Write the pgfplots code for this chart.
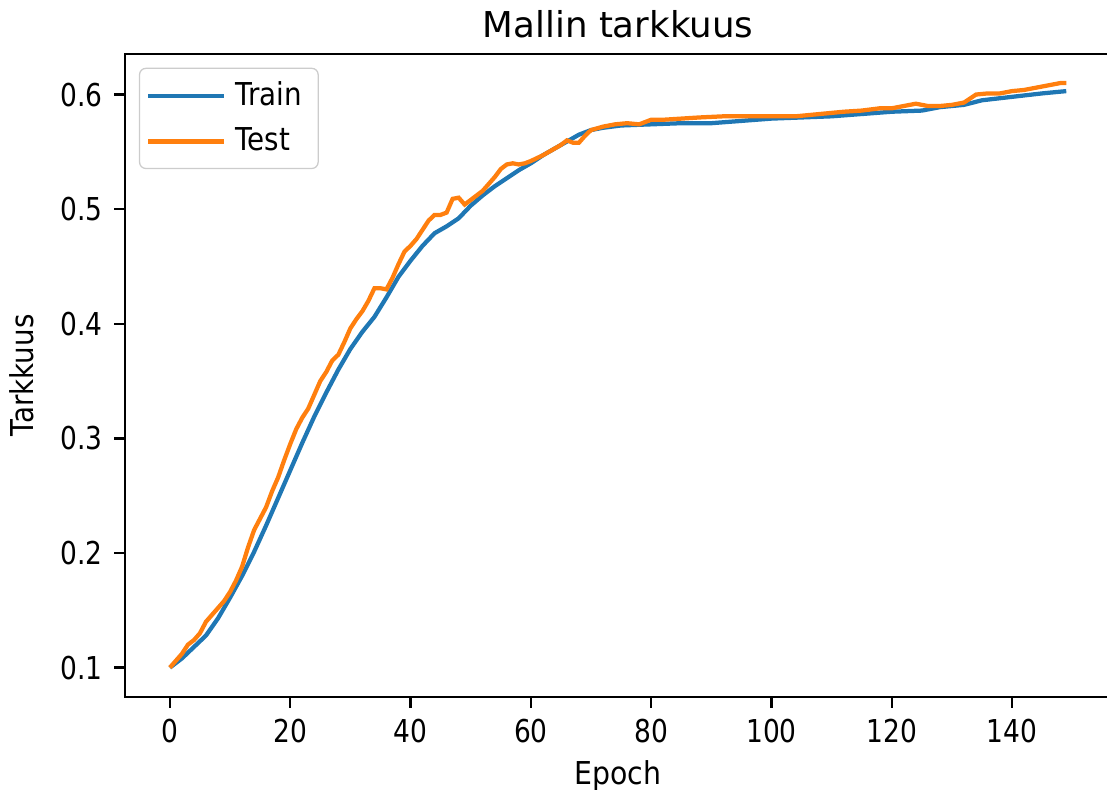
\documentclass[border=0pt]{standalone}
\usepackage{fontspec}
\setmainfont{DejaVu Sans}
\usepackage{graphicx}
\usepackage{pgfplots}
\pgfplotsset{compat=1.18}
\definecolor{mplblue}{HTML}{1F77B4}
\definecolor{mplorange}{HTML}{FF7F0E}
% narrow setting used for the small texts
\newcommand{\nrw}[1]{\scalebox{0.84}[1]{#1}}

\begin{document}
\begin{tikzpicture}
\begin{axis}[
  name=ax,
  at={(0,0)}, anchor=south west,
  scale only axis,
  width=313pt, height=204.1pt,
  xmin=-7.45, xmax=156.45,
  ymin=0.0745, ymax=0.6355,
  axis line style={line width=0.8pt, black},
  tick align=outside,
  major tick length=3.5pt,
  every tick/.style={line width=0.8pt, black},
  xtick pos=left, ytick pos=left,
  xtick={0,20,40,60,80,100,120,140},
  ytick={0.1,0.2,0.3,0.4,0.5,0.6},
  /pgf/number format/assume math mode=true,
  xticklabel={\nrw{\pgfmathprintnumber[int detect]{\tick}}},
  yticklabel={\nrw{\pgfmathprintnumber[fixed,fixed zerofill,precision=1]{\tick}}},
  xticklabel style={font=\fontsize{10}{12}\selectfont, inner sep=0pt, anchor=north, yshift=-3.5pt},
  yticklabel style={font=\fontsize{10}{12}\selectfont, inner sep=0pt, anchor=east, xshift=-3.5pt},
  every axis title shift=0pt,
  title={Mallin tarkkuus},
  title style={at={(axis description cs:0.5,1.025)}, anchor=base, inner sep=0pt, font=\fontsize{11.3}{13}\selectfont},
  xlabel={\scalebox{0.9}[1]{Epoch}},
  xlabel style={at={(axis description cs:0.5,-0.098)}, anchor=north, inner sep=0pt, font=\fontsize{10}{12}\selectfont},
  ylabel={\scalebox{0.88}[1]{Tarkkuus}},
  ylabel style={at={(axis description cs:-0.093,0.5)}, anchor=base, inner sep=0pt, font=\fontsize{10}{12}\selectfont},
  legend cell align=left,
  legend style={at={(axis description cs:0,1)}, anchor=north west, xshift=4.4pt, yshift=-4.4pt,
    draw=black!20, rounded corners=2pt, fill=white, fill opacity=0.8, text opacity=1,
    font=\fontsize{10}{12}\selectfont, inner xsep=2.1pt, inner ysep=2.2pt, row sep=1.5pt,
    nodes={inner xsep=3pt, inner ysep=2pt}},
  legend image code/.code={\draw[#1, line width=1.4pt] (0pt,0pt) -- (20pt,0pt);
    \path (0pt,0pt) -- (24pt,0pt);},
]
% training accuracy per epoch
\addplot[mplblue, line width=1.35pt] coordinates {
(0,0.100) (2,0.108) (4,0.118) (6,0.128) (8,0.143) (10,0.161) (12,0.180)
(14,0.201) (16,0.224) (18,0.248) (20,0.272) (22,0.296) (24,0.319)
(26,0.340) (28,0.360) (30,0.378) (32,0.393) (34,0.406) (36,0.423)
(38,0.441) (40,0.455) (42,0.468) (44,0.479) (46,0.485) (48,0.492)
(50,0.503) (52,0.512) (54,0.520) (56,0.527) (58,0.534) (60,0.540)
(62,0.547) (64,0.553) (66,0.559) (68,0.565) (70,0.569) (72,0.571)
(75,0.573) (80,0.574) (85,0.575) (90,0.575) (95,0.577) (100,0.579)
(105,0.580) (110,0.581) (115,0.583) (120,0.585) (125,0.586) (128,0.589)
(132,0.591) (135,0.595) (140,0.598) (145,0.601) (149,0.603)
};
\addlegendentry{\scalebox{0.88}[1]{Train}}
% validation accuracy per epoch
\addplot[mplorange, line width=1.35pt] coordinates {
(0,0.100) (1,0.106) (2,0.112) (3,0.120) (4,0.124) (5,0.130) (6,0.140)
(7,0.146) (8,0.152) (9,0.158) (10,0.166) (11,0.176) (12,0.188) (13,0.205)
(14,0.220) (15,0.230) (16,0.240) (17,0.254) (18,0.266) (19,0.281)
(20,0.295) (21,0.308) (22,0.318) (23,0.326) (24,0.338) (25,0.350)
(26,0.358) (27,0.368) (28,0.373) (29,0.384) (30,0.396) (31,0.404)
(32,0.411) (33,0.420) (34,0.431) (35,0.431) (36,0.430) (37,0.440)
(38,0.452) (39,0.463) (40,0.468) (41,0.474) (42,0.482) (43,0.490)
(44,0.495) (45,0.495) (46,0.497) (47,0.509) (48,0.510) (49,0.504)
(50,0.508) (51,0.512) (52,0.516) (53,0.522) (54,0.528) (55,0.535)
(56,0.539) (57,0.540) (58,0.539) (59,0.540) (60,0.542) (62,0.547)
(64,0.553) (65,0.556) (66,0.560) (67,0.558) (68,0.558) (69,0.564)
(70,0.569) (72,0.572) (74,0.574) (76,0.575) (78,0.574) (80,0.578)
(82,0.578) (85,0.579) (88,0.580) (92,0.581) (96,0.581) (100,0.581)
(104,0.581) (108,0.583) (112,0.585) (115,0.586) (118,0.588) (120,0.588)
(122,0.590) (124,0.592) (126,0.590) (128,0.590) (130,0.591) (132,0.593)
(134,0.600) (136,0.601) (138,0.601) (140,0.603) (142,0.604) (144,0.606)
(146,0.608) (148,0.610) (149,0.610)
};
\addlegendentry{\scalebox{0.88}[1]{Test}}
\end{axis}
\pgfresetboundingbox
\path[use as bounding box] (-39.7pt,-29.5pt) rectangle (311.7pt,221.2pt);
\end{tikzpicture}
\end{document}
